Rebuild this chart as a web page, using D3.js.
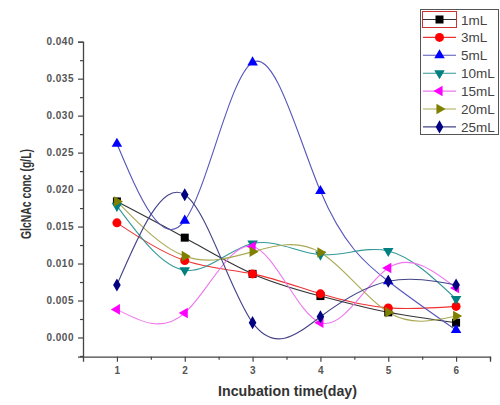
<!DOCTYPE html>
<html><head><meta charset="utf-8">
<script src="https://cdn.jsdelivr.net/npm/d3@7"></script>
<style>body{margin:0;background:#fff}svg{display:block}</style>
</head><body>
<svg id="c" width="500" height="405"></svg>
<script>
const days = [1, 2, 3, 4, 5, 6];
const seriesNames = ["1mL", "3mL", "5mL", "10mL", "15mL", "20mL", "25mL"];
const s1 = [0.0184, 0.0135, 0.0086, 0.0056, 0.0034, 0.0020];
const s3 = [0.0155, 0.0104, 0.0086, 0.0059, 0.0040, 0.0042];
const s5 = [0.0262, 0.0158, 0.0372, 0.0198, 0.0076, 0.0010];
const s10 = [0.0178, 0.0091, 0.0127, 0.0112, 0.0117, 0.0052];
const s15 = [0.0038, 0.0033, 0.0123, 0.0020, 0.0094, 0.0067];
const s20 = [0.0184, 0.0110, 0.0116, 0.0115, 0.0034, 0.0029];
const s25 = [0.0071, 0.0193, 0.0020, 0.0028, 0.0076, 0.0071];
const yTicks = [0, 0.005, 0.010, 0.015, 0.020, 0.025, 0.030, 0.035, 0.040];
const xTicks = [1, 2, 3, 4, 5, 6];
const colors = ["#000000", "#ff0000", "#0000ff", "#008080", "#ff00ff", "#808000", "#000080"];
const lineColors = ["#333333", "#ee3333", "#5555bb", "#339999", "#ee77ee", "#aaaa55", "#444488"];
const values = [s1, s3, s5, s10, s15, s20, s25];

const svg = d3.select("#c");
const x = d3.scaleLinear().domain([0.5, 6.5]).range([83, 490]);
const y = d3.scaleLinear().domain([-0.0026, 0.040]).range([356.7, 41.7]);
const FONT = "Liberation Sans, Arial, sans-serif";

// axes
const gy = svg.append("g").attr("transform", "translate(83,0)")
  .call(d3.axisLeft(y).tickValues(yTicks).tickSize(5).tickFormat(d3.format(".3f")));
const gyMinor = svg.append("g").attr("transform", "translate(83,0)")
  .call(d3.axisLeft(y).tickValues(yTicks.slice(0, -1).map(v => v + 0.0025).concat([-0.0025])).tickSize(3).tickFormat(""));
const gx = svg.append("g").attr("transform", "translate(0,356.7)")
  .call(d3.axisBottom(x).tickValues(xTicks).tickSize(5).tickFormat(d3.format("d")));
const gxMinor = svg.append("g").attr("transform", "translate(0,356.7)")
  .call(d3.axisBottom(x).tickValues([1.5, 2.5, 3.5, 4.5, 5.5, 6.5]).tickSize(3).tickFormat(""));
[gy, gyMinor, gx, gxMinor].forEach(g => {
  g.select(".domain").attr("stroke", "#444").attr("stroke-width", 1.3);
  g.selectAll(".tick line").attr("stroke", "#444").attr("stroke-width", 1.2);
  g.selectAll(".tick text").attr("fill", "#555").style("font-family", FONT)
    .style("font-size", "10px").style("font-weight", "bold").style("letter-spacing", "0.5px");
});
gx.selectAll(".tick text").attr("dy", "0.9em").attr("y", 8);
gy.selectAll(".tick text").attr("x", -9);
gyMinor.select(".domain").remove();
gxMinor.select(".domain").remove();

// labels
svg.append("text").attr("x", 287.5).attr("y", 396).attr("text-anchor", "middle")
  .attr("fill", "#333").style("font-family", FONT)
  .style("font-size", "14px").style("font-weight", "bold")
  .attr("textLength", 139).attr("lengthAdjust", "spacingAndGlyphs").text("Incubation time(day)");
svg.append("text").attr("transform", "translate(31,194) rotate(-90)").attr("text-anchor", "middle")
  .attr("fill", "#333").style("font-family", FONT)
  .style("font-size", "14px").style("font-weight", "bold")
  .attr("textLength", 90).attr("lengthAdjust", "spacingAndGlyphs").text("GlcNAc conc (g/L)");

// symbols
const tri = d3.symbol().type(d3.symbolTriangle).size(48);
function marker(g, i) {
  if (i === 0) g.append("rect").attr("x", -4).attr("y", -4).attr("width", 8).attr("height", 8);
  else if (i === 1) g.append("circle").attr("r", 4.5);
  else if (i === 2) g.append("path").attr("d", tri());
  else if (i === 3) g.append("path").attr("d", tri()).attr("transform", "rotate(180)");
  else if (i === 4) g.append("path").attr("d", tri()).attr("transform", "rotate(-90)");
  else if (i === 5) g.append("path").attr("d", tri()).attr("transform", "rotate(90)");
  else g.append("path").attr("d", d3.symbol().type(d3.symbolDiamond).size(50)());
  g.selectAll("*").attr("fill", colors[i]);
}

const line = d3.line().x((d, j) => x(days[j])).y(d => y(d)).curve(d3.curveNatural);
values.forEach((vals, i) => {
  svg.append("path").attr("d", line(vals)).attr("fill", "none")
    .attr("stroke", lineColors[i]).attr("stroke-width", 1.1);
});
values.forEach((vals, i) => {
  vals.forEach((v, j) => {
    const g = svg.append("g").attr("transform", `translate(${x(days[j])},${y(v)})`);
    marker(g, i);
  });
});

// legend
const lg = svg.append("g");
lg.append("rect").attr("x", 420.5).attr("y", 9.5).attr("width", 78).attr("height", 125)
  .attr("fill", "#fff").attr("stroke", "#555").attr("stroke-width", 1);
seriesNames.forEach((name, i) => {
  const yy = 19.5 + i * 17.9;
  lg.append("line").attr("x1", 423).attr("x2", 456).attr("y1", yy).attr("y2", yy)
    .attr("stroke", lineColors[i]).attr("stroke-width", 1.1);
  const g = lg.append("g").attr("transform", `translate(439.5,${yy})`);
  marker(g, i);
  lg.append("text").attr("x", 461).attr("y", yy + 5).attr("fill", "#444")
    .style("font-family", FONT).style("font-size", "13.5px").text(name);
});
lg.append("rect").attr("x", 422.5).attr("y", 11.5).attr("width", 34).attr("height", 16)
  .attr("fill", "none").attr("stroke", "#cc3333").attr("stroke-width", 1);
</script>
</body></html>
